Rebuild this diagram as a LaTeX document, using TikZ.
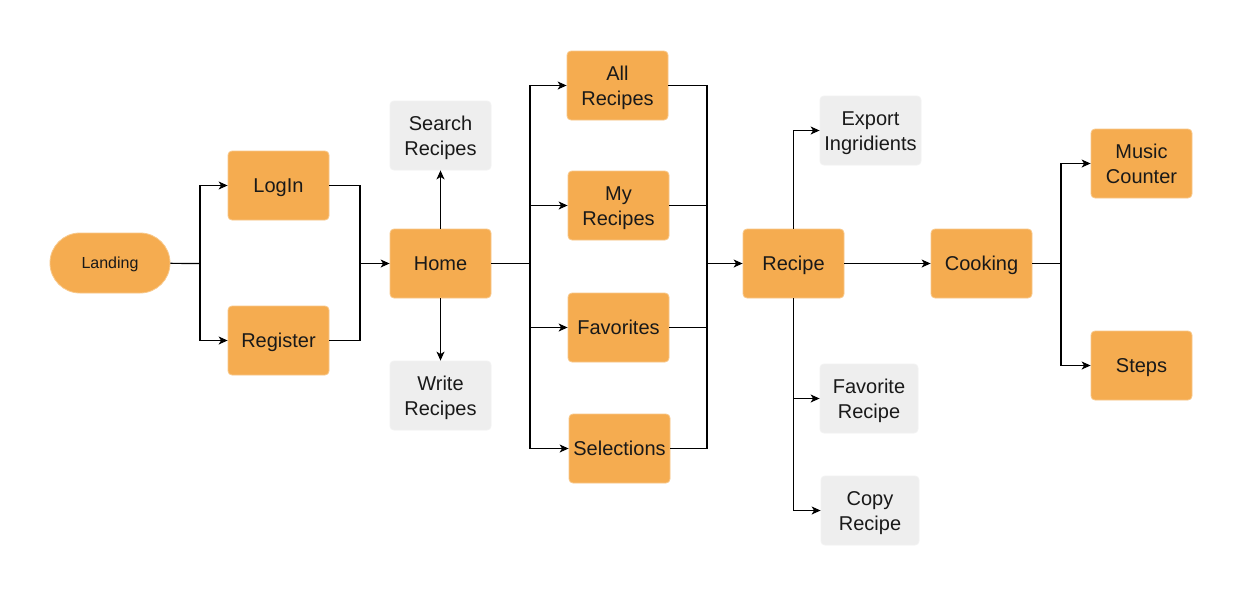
\documentclass[tikz,border=0pt]{standalone}
\usepackage{fontspec}
\setmainfont{Liberation Sans}
\usetikzlibrary{arrows.meta}
\definecolor{orfill}{HTML}{F5AC50}
\definecolor{ordraw}{HTML}{F8C88A}
\definecolor{grfill}{HTML}{EEEEEE}
\definecolor{grdraw}{HTML}{F2F2F2}
\tikzset{
  box/.style={rectangle, rounded corners=4pt, minimum width=101pt, minimum height=69pt,
    inner sep=0pt, align=center, text=black!90, line width=0.8pt,
    font=\fontsize{20pt}{25pt}\selectfont,
    text height=17.15pt, text depth=2.85pt},
  two/.style={text height=41.3pt, text depth=2pt},
  obox/.style={box, fill=orfill, draw=ordraw},
  gbox/.style={box, fill=grfill, draw=grdraw},
  conn/.style={line width=1.2pt, black},
  arr/.style={conn, -{Stealth[length=9pt,width=8pt,inset=2.5pt]}}
}
\begin{document}
\begin{tikzpicture}[x=1pt,y=-1pt]
\path[fill=white, use as bounding box] (0,0) rectangle (1244,597);
% nodes
\node[obox, minimum width=120pt, minimum height=60pt, rounded corners=29.9pt,
      font=\fontsize{16pt}{19pt}\selectfont,
      text height=13.46pt, text depth=2pt] (landing) at (110,263) {Landing};
\node[obox] (login) at (278.5,185.5) {LogIn};
\node[obox] (register) at (278.5,340.5) {Register};
\node[obox] (home) at (440.5,263.5) {Home};
\node[gbox, two] (search) at (440.5,135.5) {Search\\Recipes};
\node[gbox, two] (write) at (440.5,395.5) {Write\\Recipes};
\node[obox, two] (allr) at (617.5,85.5) {All\\Recipes};
\node[obox, two] (myr) at (618.5,205.5) {My\\Recipes};
\node[obox] (fav) at (618.5,327.5) {Favorites};
\node[obox] (sel) at (619.5,448.5) {Selections};
\node[obox] (recipe) at (793.5,263.5) {Recipe};
\node[gbox, two] (export) at (870.5,130.5) {Export\\Ingridients};
\node[gbox, two, minimum width=98pt] (favr) at (869,398.5) {Favorite\\Recipe};
\node[gbox, two, minimum width=98pt] (copyr) at (870,510.5) {Copy\\Recipe};
\node[obox] (cooking) at (981.5,263.5) {Cooking};
\node[obox, two] (music) at (1141.5,163.5) {Music\\Counter};
\node[obox] (steps) at (1141.5,365.5) {Steps};
% junctions
\coordinate (j1) at (200,263.5);
\coordinate (j2) at (360,263.5);
\coordinate (j3) at (530,263.5);
\coordinate (j4) at (707,263.5);
\coordinate (j5) at (1061,263.5);
% connectors
\draw[conn] (landing) -- (j1);
\draw[arr] (j1) |- (login);
\draw[arr] (j1) |- (register);
\draw[conn] (login) -| (j2);
\draw[conn] (register) -| (j2);
\draw[arr] (j2) -- (home);
\draw[arr] (home) -- (search);
\draw[arr] (home) -- (write);
\draw[conn] (home) -- (j3);
\draw[arr] (j3) |- (allr);
\draw[arr] (j3) |- (myr);
\draw[arr] (j3) |- (fav);
\draw[arr] (j3) |- (sel);
\draw[conn] (allr) -| (j4);
\draw[conn] (myr) -| (j4);
\draw[conn] (fav) -| (j4);
\draw[conn] (sel) -| (j4);
\draw[arr] (j4) -- (recipe);
\draw[arr] (recipe.north) |- (export);
\draw[arr] (recipe.south) |- (favr);
\draw[arr] (recipe.south) |- (copyr);
\draw[arr] (recipe) -- (cooking);
\draw[conn] (cooking) -- (j5);
\draw[arr] (j5) |- (music);
\draw[arr] (j5) |- (steps);
\end{tikzpicture}
\end{document}
